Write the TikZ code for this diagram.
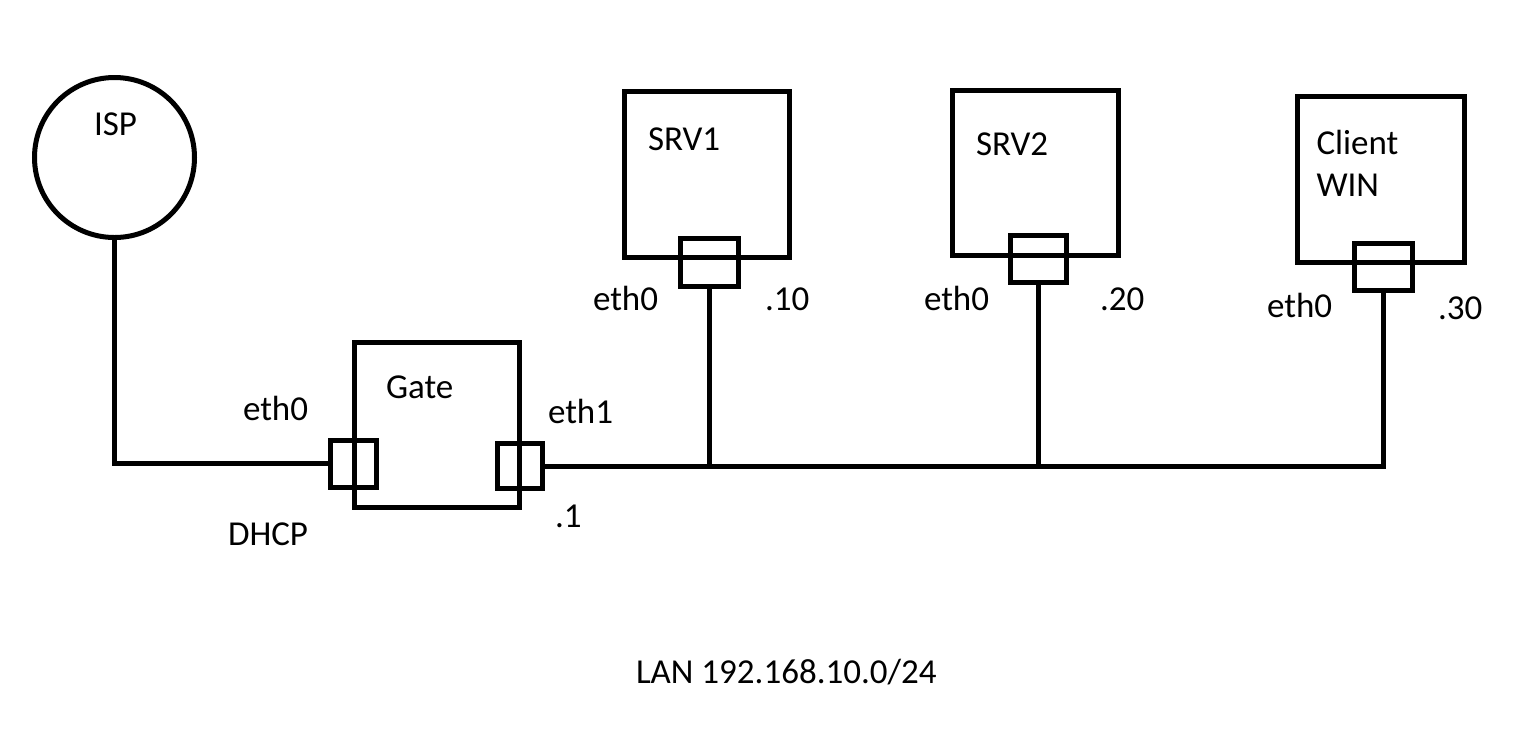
\documentclass[tikz,border=0pt]{standalone}
\usepackage{fontspec}
\setmainfont{Carlito}
\begin{document}
\begin{tikzpicture}[x=0.5pt,y=-0.5pt,
  every node/.style={inner sep=0pt,outer sep=0pt},
  box/.style={draw,line width=2.5pt,rectangle},
  port/.style={draw,line width=2.5pt,rectangle},
  wire/.style={line width=2.5pt},
  lbl/.style={anchor=base west,font=\fontsize{17.5pt}{21pt}\selectfont}]
\useasboundingbox (0,0) rectangle (1518,741);
% ISP
\node[draw,circle,line width=2.5pt,minimum size=80pt] (isp) at (114.5,157.5) {};
\node[lbl] (ispl) at (94,135) {ISP};
% Gate
\node[box,minimum width=82.5pt,minimum height=82.75pt] (gate) at (436.5,424.75) {};
\node[port,minimum width=23.25pt,minimum height=23.5pt] (gp0) at (353.25,463.5) {};
\node[port,minimum width=22.25pt,minimum height=22.25pt] (gp1) at (519.75,466) {};
\node[lbl] (gatel) at (386,398) {Gate};
% SRV1
\node[box,minimum width=82.75pt,minimum height=83pt] (srv1) at (706.75,174.5) {};
\node[port,minimum width=28.75pt,minimum height=24.25pt] (sp1) at (709.25,262.25) {};
\node[lbl] (srv1l) at (648,150) {SRV1};
% SRV2
\node[box,minimum width=82.9pt,minimum height=82.9pt] (srv2) at (1035.5,172.9) {};
\node[port,minimum width=28pt,minimum height=23.5pt] (sp2) at (1038.5,259) {};
\node[lbl] (srv2l) at (976,155) {SRV2};
% Client
\node[box,minimum width=83.8pt,minimum height=82.9pt] (client) at (1380.8,179.6) {};
\node[port,minimum width=28.85pt,minimum height=23.75pt] (cp) at (1383.65,267) {};
\node[lbl] (clientl) at (1316.5,154) {Client};
\node[lbl] (winl) at (1316.5,196.7) {WIN};
% wires
\coordinate (ispc) at (isp.south |- gp0.west);
\draw[wire] (isp.south) -- (ispc) -- (gp0.west);
\coordinate (busR) at (cp.south |- gp1.east);
\coordinate (bus1) at (sp1.south |- gp1.east);
\coordinate (bus2) at (sp2.south |- gp1.east);
\draw[wire] (gp1.east) -- (busR) -- (cp.south);
\draw[wire] (sp1.south) -- (bus1);
\draw[wire] (sp2.south) -- (bus2);
% labels
\node[lbl] (e0g) at (243,420) {eth0};
\node[lbl] (e1g) at (548,423) {eth1};
\node[lbl] (dhcp) at (228,545) {DHCP};
\node[lbl] (ip1) at (555,527) {.1};
\node[lbl] (e0s1) at (593,310) {eth0};
\node[lbl] (ip10) at (765,310) {.10};
\node[lbl] (e0s2) at (924,310) {eth0};
\node[lbl] (ip20) at (1100,310) {.20};
\node[lbl] (e0c) at (1267,317) {eth0};
\node[lbl] (ip30) at (1438,319) {.30};
\node[lbl] (lan) at (636,683) {LAN 192.168.10.0/24};
\end{tikzpicture}
\end{document}
